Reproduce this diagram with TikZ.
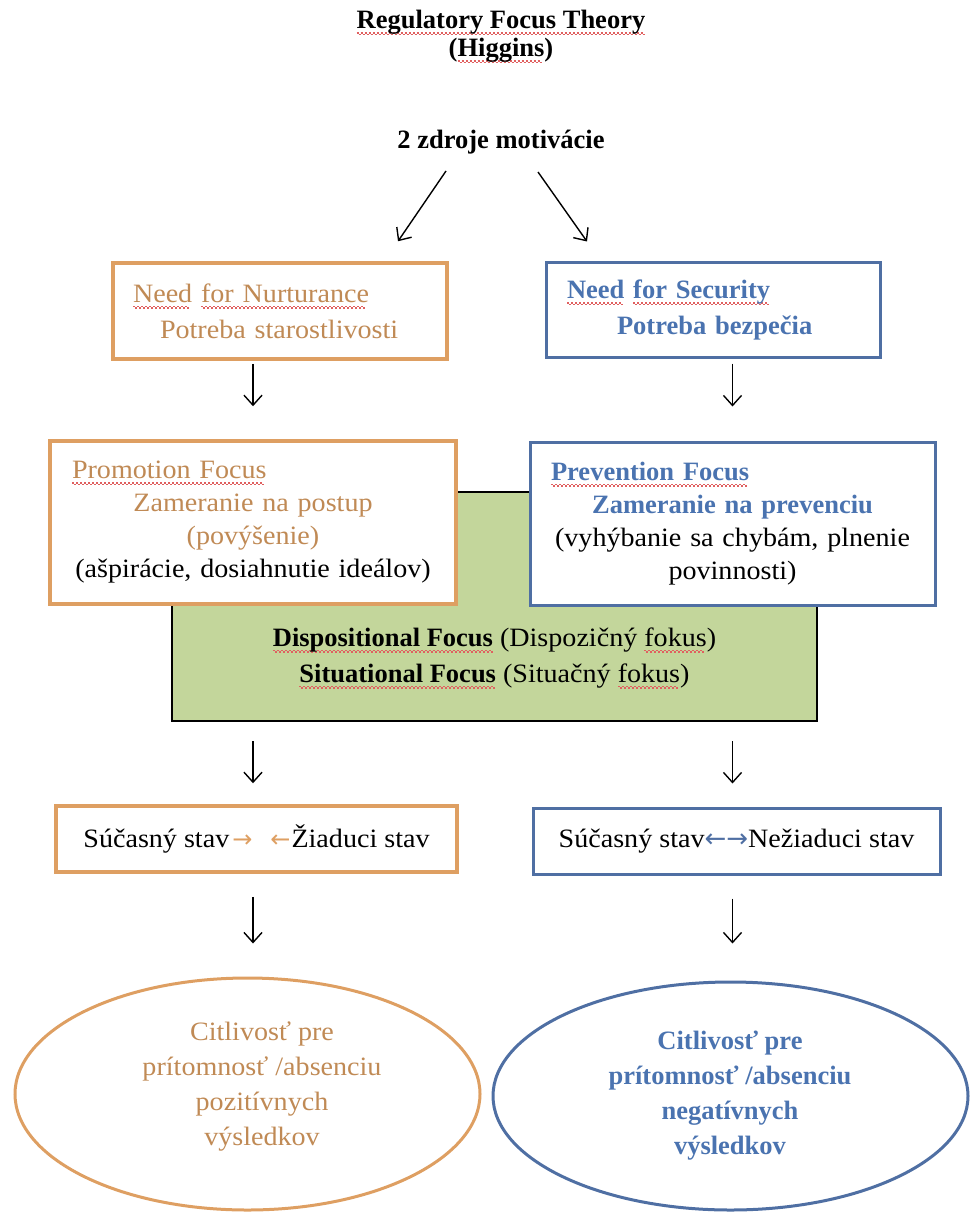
\documentclass[tikz,border=0pt]{standalone}
\usepackage{fontspec}
\setmainfont{Liberation Serif}[UprightFeatures={FakeStretch=1.06}]
\newfontfamily\arrowfont{DejaVu Sans}
\usetikzlibrary{shapes.geometric,arrows.meta,calc}
\definecolor{orln}{HTML}{DE9F62}
\definecolor{ortx}{HTML}{C08A55}
\definecolor{blln}{HTML}{4F6FA3}
\definecolor{bltx}{HTML}{4A73B0}
\definecolor{grfill}{HTML}{C3D69B}
\definecolor{sqred}{HTML}{E06060}
\newcommand\sq[1]{\setbox0\hbox{#1}\rlap{\hbox to \wd0{\color{sqred}\leaders\hbox to 4pt{\vrule width 2pt height -3.5pt depth 5pt\vrule width 2pt height -5pt depth 6.5pt}\hfill}}\box0\relax}
\tikzset{
  obox/.style={draw=orln, line width=3.5pt, fill=white},
  bbox/.style={draw=blln, line width=3pt, fill=white},
  arr/.style={-{Straight Barb[length=10pt,width=18pt]}, line width=1.4pt},
  big/.style={font=\fontsize{26.5}{33}\selectfont},
}
\begin{document}
\begin{tikzpicture}[x=1pt,y=-1pt,big]
\useasboundingbox (0,0) rectangle (971,1214);

\node[align=center, font=\fontsize{26.5}{28}\selectfont\bfseries] (title) at (501,37)
  {\sq{Regulatory Focus Theory}\\(\sq{Higgins})};
\node[font=\fontsize{26.5}{28}\selectfont\bfseries] (src) at (501,142) {2 zdroje motivácie};

\node[obox, minimum height=96pt, text width=294pt, inner xsep=20pt, align=left, text=ortx,
      font=\fontsize{26.5}{36}\selectfont] (nurt) at (280,311)
  {\sq{Need} \sq{for Nurturance}\\\hspace*{27pt}Potreba starostlivosti};
\node[bbox, minimum height=94pt, text width=292pt, inner xsep=21pt, align=left, text=bltx,
      font=\fontsize{26.5}{36}\selectfont\bfseries] (sec) at (713,310)
  {\sq{Need} \sq{for Security}\\\hspace*{50pt}Potreba bezpečia};

\node[draw=black, line width=2pt, fill=grfill, minimum width=645pt, minimum height=229pt] (green) at (494.5,606.5) {};
\node[align=center, font=\fontsize{26.5}{36}\selectfont] (disp) at (494.5,658)
  {\textbf{\sq{Dispositional Focus}} (Dispozičný \sq{fokus})\\\textbf{\sq{Situational Focus}} (Situačný \sq{fokus})};

\node[obox, minimum height=163pt, text width=362pt, inner xsep=22pt, align=center] (promo) at (253,522.5)
  {\makebox[362pt][l]{\textcolor{ortx}{\sq{Promotion Focus}}}\\\textcolor{ortx}{Zameranie na postup}\\\textcolor{ortx}{(povýšenie)}\\(ašpirácie, dosiahnutie ideálov)};
\node[bbox, minimum height=163pt, text width=363pt, inner xsep=21pt, align=center] (prev) at (732.5,523.5)
  {\makebox[363pt][l]{\textcolor{bltx}{\bfseries\sq{Prevention Focus}}}\\\textcolor{bltx}{\bfseries Zameranie na prevenciu}\\(vyhýbanie sa chybám, plnenie\\povinnosti)};

\node[obox, minimum width=401pt, minimum height=66pt] (st1) at (256.5,839)
  {Súčasný stav\hspace{3pt}\textcolor{orln}{\arrowfont\fontsize{24}{24}\selectfont →\hspace{18pt}←}\hspace{1pt}Žiaduci stav};
\node[bbox, minimum width=407pt, minimum height=66pt] (st2) at (736.5,841)
  {Súčasný stav\textcolor{blln}{\arrowfont\fontsize{26}{26}\selectfont ←→}Nežiaduci stav};

\node[ellipse, draw=orln, line width=3pt, minimum width=465pt, minimum height=232pt] (el1) at (247.5,1094) {};
\node[text=ortx, align=center, font=\fontsize{26.5}{35}\selectfont] (el1t) at (262,1086)
  {Citlivosť pre\\prítomnosť /absenciu\\pozitívnych\\výsledkov};
\node[ellipse, draw=blln, line width=3pt, minimum width=475pt, minimum height=228pt] (el2) at (730.5,1096) {};
\node[text=bltx, align=center, font=\fontsize{26.5}{35}\selectfont\bfseries] (el2t) at (730,1096)
  {Citlivosť pre\\prítomnosť /absenciu\\negatívnych\\výsledkov};

\draw[arr] ([shift={(-55,29)}]src.center) -- ([shift={(118,-20)}]nurt.north);
\draw[arr] ([shift={(37,30)}]src.center) -- ([shift={(-126,-20)}]sec.north);

\draw[arr, shorten <=3pt, shorten >=33pt] (promo.north |- nurt.south) -- (promo.north);
\draw[arr, shorten <=5pt, shorten >=34pt] (prev.north |- sec.south) -- (prev.north);

\draw[arr, shorten <=19pt, shorten >=21pt] (promo.center |- green.south) -- (promo.center |- st1.north);
\draw[arr, shorten <=19pt, shorten >=23pt] (prev.center |- green.south) -- (prev.center |- st2.north);

\draw[arr, shorten <=23pt, shorten >=33pt] (promo.center |- st1.south) -- (promo.center |- el1.north);
\draw[arr, shorten <=23pt, shorten >=37pt] (prev.center |- st2.south) -- (prev.center |- el2.north);
\end{tikzpicture}
\end{document}
